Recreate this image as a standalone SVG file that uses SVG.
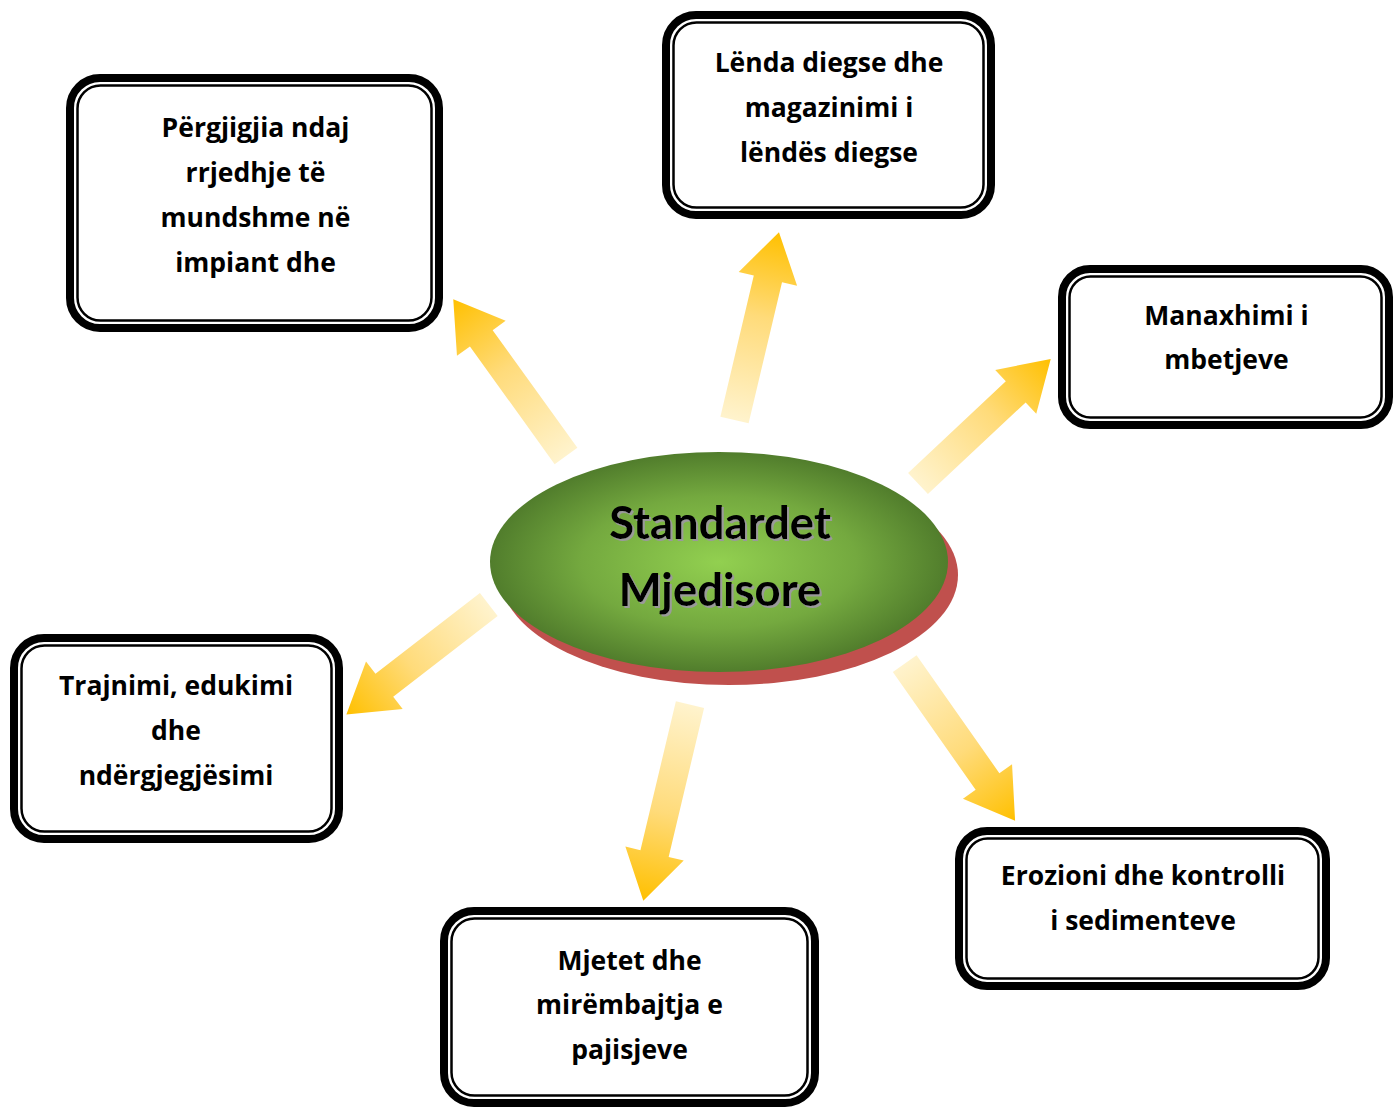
<svg xmlns="http://www.w3.org/2000/svg" width="1395" height="1107" viewBox="0 0 1395 1107">
<defs>
<style>
.outer{fill:#fff;stroke:#000;stroke-width:8}
.inner{fill:none;stroke:#000;stroke-width:2.5}
.lbl{font-family:"Open Sans","Liberation Sans",sans-serif;font-weight:bold;font-size:26.5px;fill:#000;text-anchor:middle}
.title{font-family:Lato,"Liberation Sans",sans-serif;font-weight:bold;font-size:45.5px;fill:#000;text-anchor:middle}
.arr{fill:url(#ag)}
</style>
<linearGradient id="ag" x1="0" y1="0" x2="1" y2="0">
<stop offset="0" stop-color="#FFF3CD"/>
<stop offset="0.55" stop-color="#FFDB7A"/>
<stop offset="1" stop-color="#FFC000"/>
</linearGradient>
<radialGradient id="gg" cx="0.5" cy="0.5" r="0.5">
<stop offset="0" stop-color="#92D050"/>
<stop offset="0.6" stop-color="#74A93F"/>
<stop offset="1" stop-color="#517D2C"/>
</radialGradient>
<filter id="ts" x="-10%" y="-10%" width="120%" height="130%">
<feDropShadow dx="2" dy="2" stdDeviation="0.6" flood-color="#9a9a9a" flood-opacity="1"/>
</filter>
</defs>
<rect width="1395" height="1107" fill="#fff"/>
<g id="connectors">
<g transform="translate(566,456) rotate(-125.74)"><polygon class="arr" points="0,-14 145,-14 145,-30 193,0 145,30 145,14 0,14"/></g>
<g transform="translate(734.5,420) rotate(-76.68)"><polygon class="arr" points="0,-14.5 145,-14.5 145,-30 193,0 145,30 145,14.5 0,14.5"/></g>
<g transform="translate(918,483.5) rotate(-43.17)"><polygon class="arr" points="0,-14.5 134,-14.5 134,-30 182,0 134,30 134,14.5 0,14.5"/></g>
<g transform="translate(488.8,604.5) rotate(142.31)"><polygon class="arr" points="0,-14.5 132,-14.5 132,-30 180,0 132,30 132,14.5 0,14.5"/></g>
<g transform="translate(690,704.7) rotate(103.4)"><polygon class="arr" points="0,-14.5 153,-14.5 153,-30 201.5,0 153,30 153,14.5 0,14.5"/></g>
<g transform="translate(904.7,663.7) rotate(54.9)"><polygon class="arr" points="0,-14.5 144,-14.5 144,-30 192,0 144,30 144,14.5 0,14.5"/></g>
</g>
<g id="center">
<ellipse cx="729" cy="575" rx="229" ry="110" fill="#C0504D"/>
<ellipse cx="719" cy="562" rx="229" ry="110" fill="url(#gg)"/>
<g filter="url(#ts)">
<text class="title" x="720" y="539">Standardet</text>
<text class="title" x="720" y="606">Mjedisore</text>
</g>
</g>
<g id="box1">
<rect class="outer" x="70" y="78" width="369" height="250" rx="30"/>
<rect class="inner" x="77.5" y="85.5" width="354" height="235" rx="23"/>
<text class="lbl" x="255.5" y="137">Përgjigjia ndaj</text>
<text class="lbl" x="255.5" y="182">rrjedhje të</text>
<text class="lbl" x="255.5" y="227">mundshme në</text>
<text class="lbl" x="255.5" y="272">impiant dhe</text>
</g>
<g id="box2">
<rect class="outer" x="666" y="15" width="325" height="200" rx="30"/>
<rect class="inner" x="673.5" y="22.5" width="310" height="185" rx="23"/>
<text class="lbl" x="829" y="72">Lënda diegse dhe</text>
<text class="lbl" x="829" y="117">magazinimi i</text>
<text class="lbl" x="829" y="162">lëndës diegse</text>
</g>
<g id="box3">
<rect class="outer" x="1062" y="269" width="327" height="156" rx="28"/>
<rect class="inner" x="1069.5" y="276.5" width="312" height="141" rx="21"/>
<text class="lbl" x="1226.5" y="325">Manaxhimi i</text>
<text class="lbl" x="1226.5" y="369">mbetjeve</text>
</g>
<g id="box4">
<rect class="outer" x="14" y="638" width="325" height="201" rx="30"/>
<rect class="inner" x="21.5" y="645.5" width="310" height="186" rx="23"/>
<text class="lbl" x="176" y="695">Trajnimi, edukimi</text>
<text class="lbl" x="176" y="740">dhe</text>
<text class="lbl" x="176" y="785">ndërgjegjësimi</text>
</g>
<g id="box5">
<rect class="outer" x="444" y="911" width="371" height="192" rx="30"/>
<rect class="inner" x="451.5" y="918.5" width="356" height="177" rx="23"/>
<text class="lbl" x="629.5" y="970">Mjetet dhe</text>
<text class="lbl" x="629.5" y="1014">mirëmbajtja e</text>
<text class="lbl" x="629.5" y="1059">pajisjeve</text>
</g>
<g id="box6">
<rect class="outer" x="959" y="831" width="367" height="155" rx="28"/>
<rect class="inner" x="966.5" y="838.5" width="352" height="140" rx="21"/>
<text class="lbl" x="1143" y="885">Erozioni dhe kontrolli</text>
<text class="lbl" x="1143" y="930">i sedimenteve</text>
</g>
</svg>
